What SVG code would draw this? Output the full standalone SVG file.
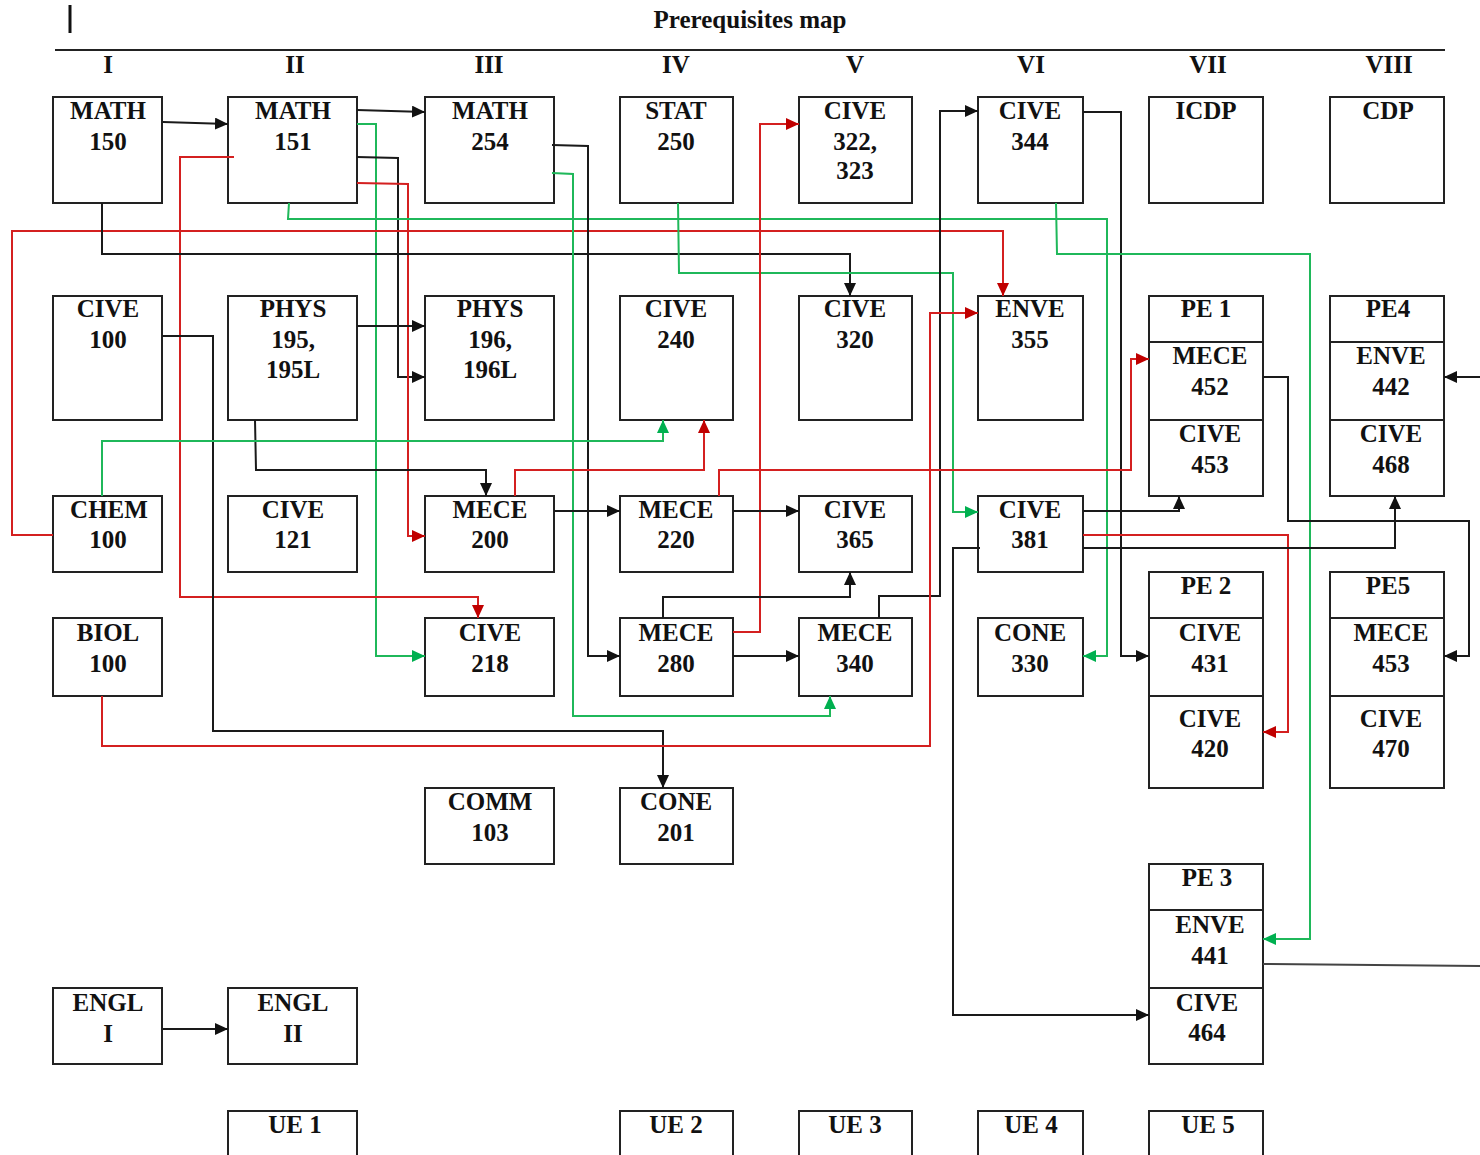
<svg xmlns="http://www.w3.org/2000/svg" width="1480" height="1155" viewBox="0 0 1480 1155">
<style>
.b{fill:#fff;stroke:#222;stroke-width:2}
.d{stroke:#222;stroke-width:2}
.t{font-family:"Liberation Serif","Times New Roman",serif;font-weight:bold;font-size:25px;text-anchor:middle;fill:#111}
.k{fill:none;stroke:#1a1a1a;stroke-width:2;marker-end:url(#ak)}
.r{fill:none;stroke:#d42020;stroke-width:2;marker-end:url(#ar)}
.g{fill:none;stroke:#1fb85a;stroke-width:2;marker-end:url(#ag)}
</style>
<defs>
<marker id="ak" markerUnits="userSpaceOnUse" markerWidth="13" markerHeight="12" refX="13" refY="6" orient="auto"><path d="M0,0 L13,6 L0,12 z" fill="#111"/></marker>
<marker id="ar" markerUnits="userSpaceOnUse" markerWidth="13" markerHeight="12" refX="13" refY="6" orient="auto"><path d="M0,0 L13,6 L0,12 z" fill="#c00000"/></marker>
<marker id="ag" markerUnits="userSpaceOnUse" markerWidth="13" markerHeight="12" refX="13" refY="6" orient="auto"><path d="M0,0 L13,6 L0,12 z" fill="#00b050"/></marker>
</defs>
<rect width="1480" height="1155" fill="#fff"/>
<g id="header">
<line x1="70" y1="5" x2="70" y2="33" stroke="#111" stroke-width="3"/>
<text class="t" x="750" y="28">Prerequisites map</text>
<line x1="55" y1="50" x2="1445" y2="50" stroke="#222" stroke-width="2"/>
<text class="t" x="108" y="73">I</text>
<text class="t" x="295" y="73">II</text>
<text class="t" x="489" y="73">III</text>
<text class="t" x="676" y="73">IV</text>
<text class="t" x="855" y="73">V</text>
<text class="t" x="1031" y="73">VI</text>
<text class="t" x="1208" y="73">VII</text>
<text class="t" x="1389" y="73">VIII</text>
</g>
<g id="nodes">
<g id="math150"><rect class="b" x="53" y="97" width="109" height="106"/><text class="t" x="108" y="119">MATH</text><text class="t" x="108" y="150">150</text></g>
<g id="math151"><rect class="b" x="228" y="97" width="129" height="106"/><text class="t" x="293" y="119">MATH</text><text class="t" x="293" y="150">151</text></g>
<g id="math254"><rect class="b" x="425" y="97" width="129" height="106"/><text class="t" x="490" y="119">MATH</text><text class="t" x="490" y="150">254</text></g>
<g id="stat250"><rect class="b" x="620" y="97" width="113" height="106"/><text class="t" x="676" y="119">STAT</text><text class="t" x="676" y="150">250</text></g>
<g id="cive322"><rect class="b" x="799" y="97" width="113" height="106"/><text class="t" x="855" y="119">CIVE</text><text class="t" x="855" y="150">322,</text><text class="t" x="855" y="179">323</text></g>
<g id="cive344"><rect class="b" x="978" y="97" width="105" height="106"/><text class="t" x="1030" y="119">CIVE</text><text class="t" x="1030" y="150">344</text></g>
<g id="icdp"><rect class="b" x="1149" y="97" width="114" height="106"/><text class="t" x="1206" y="119">ICDP</text></g>
<g id="cdp"><rect class="b" x="1330" y="97" width="114" height="106"/><text class="t" x="1388" y="119">CDP</text></g>

<g id="cive100"><rect class="b" x="53" y="296" width="109" height="124"/><text class="t" x="108" y="317">CIVE</text><text class="t" x="108" y="348">100</text></g>
<g id="phys195"><rect class="b" x="228" y="296" width="129" height="124"/><text class="t" x="293" y="317">PHYS</text><text class="t" x="293" y="348">195,</text><text class="t" x="293" y="378">195L</text></g>
<g id="phys196"><rect class="b" x="425" y="296" width="129" height="124"/><text class="t" x="490" y="317">PHYS</text><text class="t" x="490" y="348">196,</text><text class="t" x="490" y="378">196L</text></g>
<g id="cive240"><rect class="b" x="620" y="296" width="113" height="124"/><text class="t" x="676" y="317">CIVE</text><text class="t" x="676" y="348">240</text></g>
<g id="cive320"><rect class="b" x="799" y="296" width="113" height="124"/><text class="t" x="855" y="317">CIVE</text><text class="t" x="855" y="348">320</text></g>
<g id="enve355"><rect class="b" x="978" y="296" width="105" height="124"/><text class="t" x="1030" y="317">ENVE</text><text class="t" x="1030" y="348">355</text></g>
<g id="pe1"><rect class="b" x="1149" y="296" width="114" height="200"/><line class="d" x1="1149" y1="342" x2="1263" y2="342"/><line class="d" x1="1149" y1="420" x2="1263" y2="420"/><text class="t" x="1206" y="317">PE 1</text><text class="t" x="1210" y="364">MECE</text><text class="t" x="1210" y="395">452</text><text class="t" x="1210" y="442">CIVE</text><text class="t" x="1210" y="473">453</text></g>
<g id="pe4"><rect class="b" x="1330" y="296" width="114" height="200"/><line class="d" x1="1330" y1="342" x2="1444" y2="342"/><line class="d" x1="1330" y1="420" x2="1444" y2="420"/><text class="t" x="1388" y="317">PE4</text><text class="t" x="1391" y="364">ENVE</text><text class="t" x="1391" y="395">442</text><text class="t" x="1391" y="442">CIVE</text><text class="t" x="1391" y="473">468</text></g>

<g id="chem100"><rect class="b" x="53" y="496" width="109" height="76"/><text class="t" x="109" y="518">CHEM</text><text class="t" x="108" y="548">100</text></g>
<g id="cive121"><rect class="b" x="228" y="496" width="129" height="76"/><text class="t" x="293" y="518">CIVE</text><text class="t" x="293" y="548">121</text></g>
<g id="mece200"><rect class="b" x="425" y="496" width="129" height="76"/><text class="t" x="490" y="518">MECE</text><text class="t" x="490" y="548">200</text></g>
<g id="mece220"><rect class="b" x="620" y="496" width="113" height="76"/><text class="t" x="676" y="518">MECE</text><text class="t" x="676" y="548">220</text></g>
<g id="cive365"><rect class="b" x="799" y="496" width="113" height="76"/><text class="t" x="855" y="518">CIVE</text><text class="t" x="855" y="548">365</text></g>
<g id="cive381"><rect class="b" x="978" y="496" width="105" height="76"/><text class="t" x="1030" y="518">CIVE</text><text class="t" x="1030" y="548">381</text></g>

<g id="biol100"><rect class="b" x="53" y="618" width="109" height="78"/><text class="t" x="108" y="641">BIOL</text><text class="t" x="108" y="672">100</text></g>
<g id="cive218"><rect class="b" x="425" y="618" width="129" height="78"/><text class="t" x="490" y="641">CIVE</text><text class="t" x="490" y="672">218</text></g>
<g id="mece280"><rect class="b" x="620" y="618" width="113" height="78"/><text class="t" x="676" y="641">MECE</text><text class="t" x="676" y="672">280</text></g>
<g id="mece340"><rect class="b" x="799" y="618" width="113" height="78"/><text class="t" x="855" y="641">MECE</text><text class="t" x="855" y="672">340</text></g>
<g id="cone330"><rect class="b" x="978" y="618" width="105" height="78"/><text class="t" x="1030" y="641">CONE</text><text class="t" x="1030" y="672">330</text></g>
<g id="pe2"><rect class="b" x="1149" y="572" width="114" height="216"/><line class="d" x1="1149" y1="618" x2="1263" y2="618"/><line class="d" x1="1149" y1="696" x2="1263" y2="696"/><text class="t" x="1206" y="594">PE 2</text><text class="t" x="1210" y="641">CIVE</text><text class="t" x="1210" y="672">431</text><text class="t" x="1210" y="727">CIVE</text><text class="t" x="1210" y="757">420</text></g>
<g id="pe5"><rect class="b" x="1330" y="572" width="114" height="216"/><line class="d" x1="1330" y1="618" x2="1444" y2="618"/><line class="d" x1="1330" y1="696" x2="1444" y2="696"/><text class="t" x="1388" y="594">PE5</text><text class="t" x="1391" y="641">MECE</text><text class="t" x="1391" y="672">453</text><text class="t" x="1391" y="727">CIVE</text><text class="t" x="1391" y="757">470</text></g>

<g id="comm103"><rect class="b" x="425" y="788" width="129" height="76"/><text class="t" x="490" y="810">COMM</text><text class="t" x="490" y="841">103</text></g>
<g id="cone201"><rect class="b" x="620" y="788" width="113" height="76"/><text class="t" x="676" y="810">CONE</text><text class="t" x="676" y="841">201</text></g>

<g id="pe3"><rect class="b" x="1149" y="864" width="114" height="200"/><line class="d" x1="1149" y1="910" x2="1263" y2="910"/><line class="d" x1="1149" y1="988" x2="1263" y2="988"/><text class="t" x="1207" y="886">PE 3</text><text class="t" x="1210" y="933">ENVE</text><text class="t" x="1210" y="964">441</text><text class="t" x="1207" y="1011">CIVE</text><text class="t" x="1207" y="1041">464</text></g>

<g id="engl1"><rect class="b" x="53" y="988" width="109" height="76"/><text class="t" x="108" y="1011">ENGL</text><text class="t" x="108" y="1042">I</text></g>
<g id="engl2"><rect class="b" x="228" y="988" width="129" height="76"/><text class="t" x="293" y="1011">ENGL</text><text class="t" x="293" y="1042">II</text></g>

<g id="ue1"><rect class="b" x="228" y="1111" width="129" height="52"/><text class="t" x="295" y="1133">UE 1</text></g>
<g id="ue2"><rect class="b" x="620" y="1111" width="113" height="52"/><text class="t" x="676" y="1133">UE 2</text></g>
<g id="ue3"><rect class="b" x="799" y="1111" width="113" height="52"/><text class="t" x="855" y="1133">UE 3</text></g>
<g id="ue4"><rect class="b" x="978" y="1111" width="105" height="52"/><text class="t" x="1031" y="1133">UE 4</text></g>
<g id="ue5"><rect class="b" x="1149" y="1111" width="114" height="52"/><text class="t" x="1208" y="1133">UE 5</text></g>
</g>
<g id="connectors">
<polyline class="k" points="163,122 228,124"/>
<polyline class="k" points="357,110 425,112"/>
<polyline class="g" points="357,124 376,124 376,656 425,656"/>
<polyline class="k" points="357,157 398,158 398,377 425,377"/>
<polyline class="r" points="357,183 408,184 408,536 425,536"/>
<polyline class="r" points="234,157 180,157 180,597 478,597 478,618"/>
<polyline class="g" points="289,203 288,219 1107,219 1107,656 1083,656"/>
<polyline class="r" points="53,535 12,535 12,231 1003,231 1003,296"/>
<polyline class="k" points="102,203 102,254 850,254 850,296"/>
<polyline class="k" points="552,145 588,146 588,656 620,656"/>
<polyline class="g" points="552,173 573,174 573,716 830,716 830,696"/>
<polyline class="g" points="678,203 679,273 953,273 953,512 978,512"/>
<polyline class="r" points="733,632 760,632 760,124 799,124"/>
<polyline class="k" points="879,618 879,596 940,596 940,111 978,111"/>
<polyline class="k" points="663,618 663,597 850,597 850,572"/>
<polyline class="k" points="1083,112 1121,112 1121,656 1149,656"/>
<polyline class="g" points="1056,203 1057,254 1310,254 1310,939 1263,939"/>
<polyline class="k" points="162,336 213,336 213,731 663,731 663,788"/>
<polyline class="k" points="357,326 425,326"/>
<polyline class="k" points="255,420 256,470 486,470 486,496"/>
<polyline class="g" points="102,496 102,441 663,441 663,420"/>
<polyline class="r" points="515,496 515,470 704,470 704,420"/>
<polyline class="k" points="554,511 620,511"/>
<polyline class="k" points="733,511 799,511"/>
<polyline class="r" points="719,496 719,470 1131,470 1131,359 1149,359"/>
<polyline class="r" points="102,696 102,746 930,746 930,313 978,313"/>
<polyline class="k" points="1263,377 1288,377 1288,521 1469,521 1469,656 1444,656"/>
<polyline class="k" points="1480,377 1444,377"/>
<polyline class="k" points="1083,511 1179,511 1179,496"/>
<polyline class="r" points="1083,535 1288,535 1288,732 1263,732"/>
<polyline class="k" points="1083,548 1395,548 1395,496"/>
<polyline class="k" points="980,548 953,548 953,1015 1149,1015"/>
<polyline class="k" points="733,656 799,656"/>
<polyline class="k" points="163,1029 228,1029"/>
<polyline fill="none" stroke="#444" stroke-width="2" points="1263,964 1480,966"/>
</g>
</svg>
